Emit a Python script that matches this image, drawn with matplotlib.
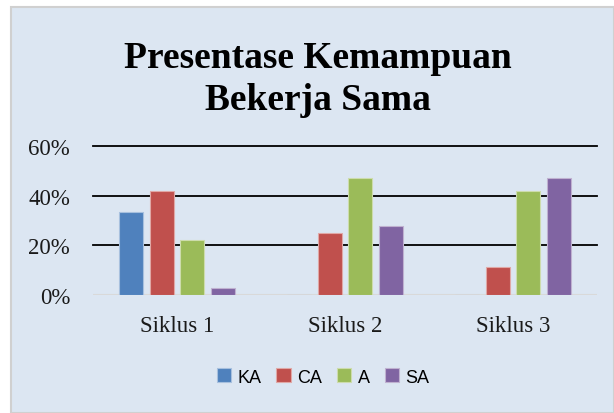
import numpy as np
import matplotlib.pyplot as plt
from matplotlib.patches import Rectangle

categories = ['Siklus 1', 'Siklus 2', 'Siklus 3']
series = ['KA', 'CA', 'A', 'SA']
KA = [33.3, 0.0, 0.0]
CA = [41.7, 25.0, 11.1]
A = [22.2, 47.2, 41.7]
SA = [2.8, 27.8, 47.2]
yticks = [0, 20, 40, 60]
ytick_labels = ['0%', '20%', '40%', '60%']

colors = ['#4f81bd', '#c0504d', '#9bbb59', '#8064a2']
edges = ['#a7c0de', '#e0a8a6', '#cddcac', '#bfb1d0']

fig = plt.figure(figsize=(6.14, 4.14), dpi=100)
fig.patch.set_facecolor('white')

# chart frame
fig.patches.append(Rectangle((11 / 614, 0), 1 - 11 / 614, 1 - 8 / 414,
                             transform=fig.transFigure, facecolor='#dce6f2',
                             edgecolor='#d0d0d0', linewidth=1.5, zorder=-5))

ax = fig.add_axes([93 / 614, 1 - 296 / 414, 504 / 614, 149 / 414])
ax.set_facecolor('none')
ax.set_zorder(2)

x = np.arange(len(categories))
w = 0.143
step = 0.1815
for i, (name, vals) in enumerate(zip(series, [KA, CA, A, SA])):
    ax.bar(x + (i - 1.5) * step, vals, width=w, color=colors[i],
           edgecolor=edges[i], linewidth=0.8, label=name, zorder=3)

ax.set_xlim(-0.5, 2.5)
ax.set_ylim(0, 60)
ax.set_yticks(yticks)
ax.set_yticklabels(ytick_labels)
ax.set_xticks(x)
ax.set_xticklabels(categories)

for y in yticks[1:]:
    ax.axhline(y, color='black', linewidth=1.3, zorder=2, clip_on=False)
ax.axhline(0, color='#d9d9d9', linewidth=1.5, zorder=2)

for s in ax.spines.values():
    s.set_visible(False)
ax.tick_params(length=0)
ax.tick_params(axis='y', pad=16.5)
ax.tick_params(axis='x', pad=14.5)
for lab in ax.get_xticklabels() + ax.get_yticklabels():
    lab.set_fontfamily('Liberation Serif')
    lab.set_fontsize(16.5)
    lab.set_color('#1a1a1a')

fig.text(0.518, 1 - 41 / 414, 'Presentase Kemampuan\nBekerja Sama',
         ha='center', va='top', fontfamily='Liberation Serif',
         fontweight='bold', fontsize=27, linespacing=1.26)

fig.legend(loc='center', bbox_to_anchor=(323 / 614, 1 - 378 / 414), ncol=4,
           frameon=False, prop={'family': 'Liberation Sans', 'size': 13},
           handlelength=0.78, handleheight=0.78, handletextpad=0.35,
           columnspacing=0.85)

fig.savefig('out.png', dpi=100)
